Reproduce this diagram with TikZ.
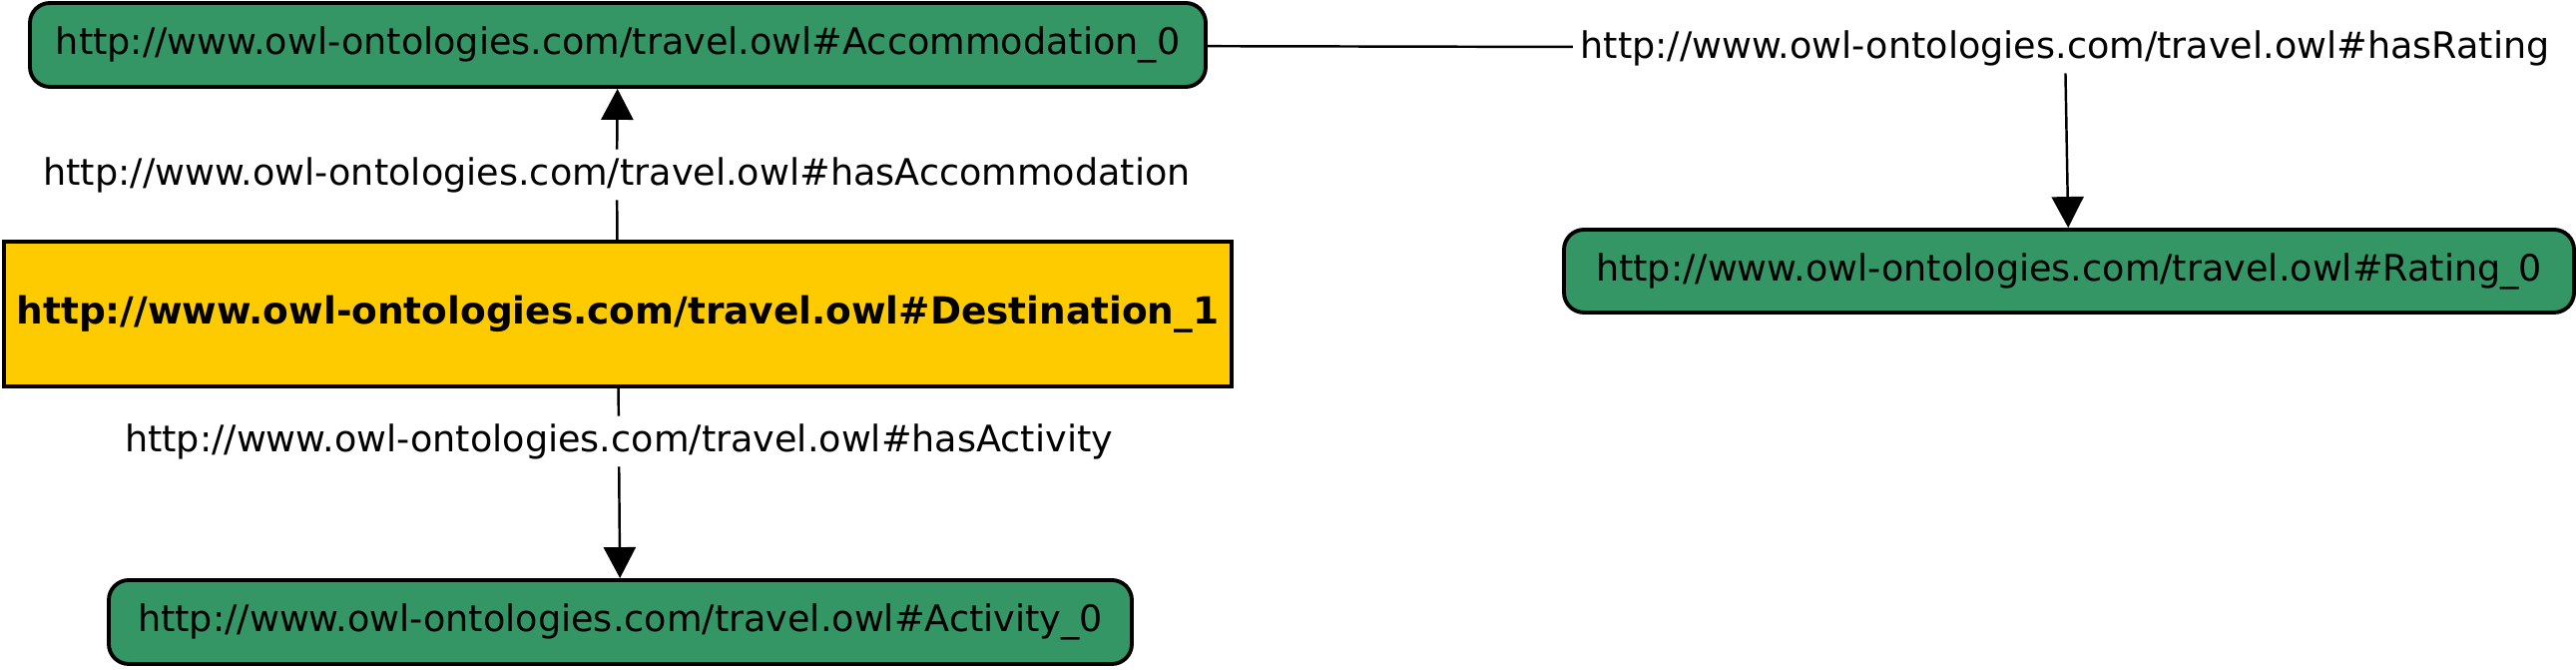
\documentclass[tikz,border=0pt]{standalone}
\usepackage{fontspec}
\setmainfont{DejaVu Sans}
\usepackage{tikz}
\usetikzlibrary{positioning, arrows.meta}
\usepackage{xcolor}
\definecolor{owlgreen}{RGB}{52,150,100}
\definecolor{owlyellow}{RGB}{254,203,0}

\begin{document}
\begin{tikzpicture}[
    individual/.style={rectangle, draw, line width=1.1pt, rounded corners=0.2cm, fill=owlgreen,
                minimum height=0.84cm, font=\fontsize{10.4}{12}\selectfont},
    focus/.style={rectangle, draw, line width=1.1pt, fill=owlyellow, minimum width=12.3cm,
                minimum height=1.45cm, font=\fontsize{10.65}{12}\selectfont\bfseries},
    prop/.style={fill=white, inner sep=2pt, font=\fontsize{10.4}{12}\selectfont},
    link/.style={line width=0.7pt},
    relation/.style={-{Triangle[width=3.2mm, length=3.1mm]}, line width=0.7pt}
]
\useasboundingbox (0,0) rectangle (25.81,-6.71);
% Individuals
\node[focus] (dest) at (6.19,-3.145) {http://www.owl-ontologies.com/travel.owl\#Destination\_1};
\node[individual, minimum width=11.78cm] (acc) at (6.19,-0.45) {http://www.owl-ontologies.com/travel.owl\#Accommodation\_0};
\node[individual, minimum width=10.25cm] (act) at (6.215,-6.23) {http://www.owl-ontologies.com/travel.owl\#Activity\_0};
\node[individual, minimum width=10.12cm, minimum height=0.83cm] (rating) at (20.73,-2.715) {http://www.owl-ontologies.com/travel.owl\#Rating\_0};

% Properties
\node[prop] (hasacc) at (6.18,-1.75) {http://www.owl-ontologies.com/travel.owl\#hasAccommodation};
\node[prop] (hasact) at (6.20,-4.42) {http://www.owl-ontologies.com/travel.owl\#hasActivity};
\node[prop] (hasrating) at (20.69,-0.48) {http://www.owl-ontologies.com/travel.owl\#hasRating};

% Edges
\draw[link] (dest) -- (hasacc);
\draw[relation] (hasacc) -- (acc);
\draw[link] (dest) -- (hasact);
\draw[relation] (hasact) -- (act);
\draw[link] (acc) -- (hasrating);
\draw[relation] (hasrating) -- (rating);
\end{tikzpicture}
\end{document}
